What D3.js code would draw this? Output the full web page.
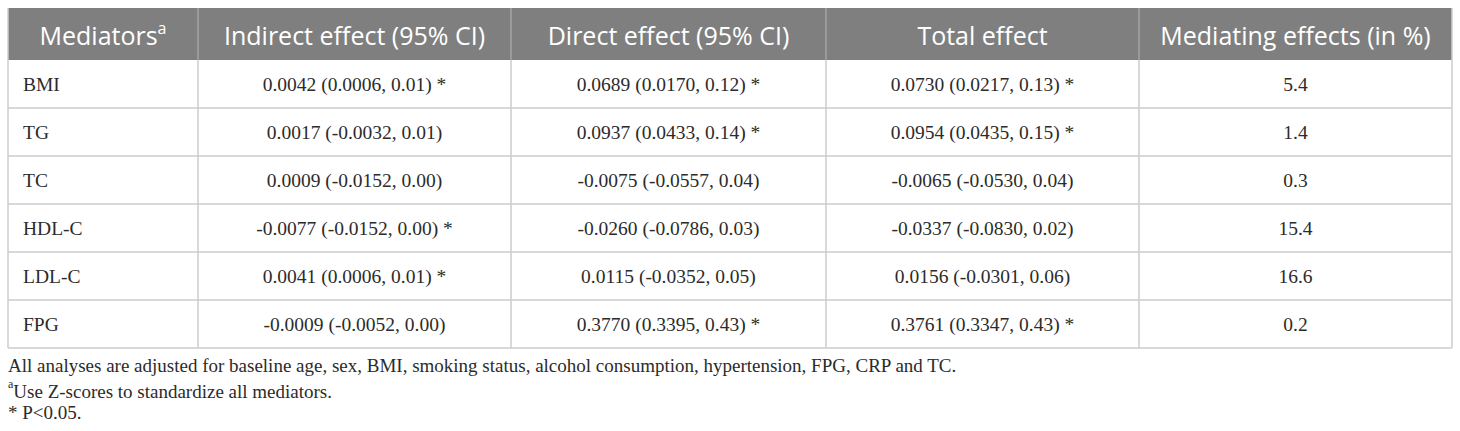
<!DOCTYPE html>
<html>
<head>
<meta charset="utf-8">
<script src="https://cdn.jsdelivr.net/npm/d3@7"></script>
<style>
  body { margin: 0; background: #fff; }
</style>
</head>
<body>
<div id="chart"></div>
<script>
var width = 1460;
var height = 431;

var headers = ["Mediators", "Indirect effect (95% CI)", "Direct effect (95% CI)", "Total effect", "Mediating effects (in %)"];
var mediators = ["BMI", "TG", "TC", "HDL-C", "LDL-C", "FPG"];
var indirect = ["0.0042 (0.0006, 0.01) *", "0.0017 (-0.0032, 0.01)", "0.0009 (-0.0152, 0.00)",
                "-0.0077 (-0.0152, 0.00) *", "0.0041 (0.0006, 0.01) *", "-0.0009 (-0.0052, 0.00)"];
var direct = ["0.0689 (0.0170, 0.12) *", "0.0937 (0.0433, 0.14) *", "-0.0075 (-0.0557, 0.04)",
              "-0.0260 (-0.0786, 0.03)", "0.0115 (-0.0352, 0.05)", "0.3770 (0.3395, 0.43) *"];
var total = ["0.0730 (0.0217, 0.13) *", "0.0954 (0.0435, 0.15) *", "-0.0065 (-0.0530, 0.04)",
             "-0.0337 (-0.0830, 0.02)", "0.0156 (-0.0301, 0.06)", "0.3761 (0.3347, 0.43) *"];
var mediatingPct = ["5.4", "1.4", "0.3", "15.4", "16.6", "0.2"];
var footnotes = [
  {sup: "", text: "All analyses are adjusted for baseline age, sex, BMI, smoking status, alcohol consumption, hypertension, FPG, CRP and TC."},
  {sup: "a", text: "Use Z-scores to standardize all mediators."},
  {sup: "", text: "* P<0.05."}
];

var columns = [mediators, indirect, direct, total, mediatingPct];
var colWidths = [190, 313, 315, 313, 313];

var tableLeft = 8, tableTop = 8, headerH = 52, rowH = 48;
var tableRight = tableLeft + d3.sum(colWidths);
var tableBottom = tableTop + headerH + rowH * mediators.length;

var edges = [tableLeft].concat(Array.from(d3.cumsum(colWidths), function(d) { return tableLeft + d; }));
var xLeft = d3.scaleOrdinal().domain(d3.range(headers.length)).range(edges.slice(0, -1));
var xCenter = function(i) { return xLeft(i) + colWidths[i] / 2; };

var y = d3.scaleBand()
          .domain(d3.range(mediators.length))
          .range([tableTop + headerH, tableBottom]);

var svg = d3.select("#chart")
            .append("svg")
            .attr("width", width)
            .attr("height", height);

// header band
svg.append("rect")
   .attr("x", tableLeft).attr("y", tableTop)
   .attr("width", tableRight - tableLeft).attr("height", headerH)
   .style("fill", "#7f7f7f");

// row lines
svg.selectAll("line.row")
   .data(d3.range(mediators.length))
   .enter()
   .append("line")
   .attr("class", "row")
   .attr("x1", tableLeft).attr("x2", tableRight)
   .attr("y1", function(d) { return y(d) + rowH; })
   .attr("y2", function(d) { return y(d) + rowH; })
   .style("stroke", "#cccccc").style("stroke-width", 1.5);

// column lines in header (lighter) and body
svg.selectAll("line.hcol")
   .data(edges.slice(1, -1))
   .enter()
   .append("line")
   .attr("x1", function(d) { return d; }).attr("x2", function(d) { return d; })
   .attr("y1", tableTop).attr("y2", tableTop + headerH)
   .style("stroke", "#a3a3a3").style("stroke-width", 1.5);

svg.selectAll("line.bcol")
   .data(edges)
   .enter()
   .append("line")
   .attr("x1", function(d) { return d; }).attr("x2", function(d) { return d; })
   .attr("y1", function(d, i) { return (i == 0 || i == edges.length - 1) ? tableTop : tableTop + headerH; })
   .attr("y2", tableBottom)
   .style("stroke", "#cccccc")
   .style("stroke-width", 1.5);

// header text
var ht = svg.selectAll("text.head")
   .data(headers)
   .enter()
   .append("text")
   .attr("x", function(d, i) { return xCenter(i); })
   .attr("y", tableTop + headerH / 2 + 1)
   .attr("text-anchor", "middle")
   .attr("dominant-baseline", "central")
   .style("font-family", "'Open Sans', sans-serif")
   .style("font-size", "25px")
   .style("fill", "#ffffff")
   .text(function(d) { return d; });

ht.filter(function(d, i) { return i == 0; })
  .append("tspan")
  .attr("dy", "-0.45em")
  .style("font-size", "16px")
  .text("a");

// body cells
columns.forEach(function(col, c) {
  svg.selectAll("text.c" + c)
     .data(col)
     .enter()
     .append("text")
     .attr("x", c == 0 ? tableLeft + 15 : xCenter(c))
     .attr("y", function(d, i) { return y(i) + rowH / 2; })
     .attr("text-anchor", c == 0 ? "start" : "middle")
     .attr("dominant-baseline", "central")
     .style("font-family", "'Liberation Serif', serif")
     .style("font-size", "19.5px")
     .style("fill", "#2b2b2b")
     .text(function(d) { return d; });
});

// footnotes
var fn = svg.selectAll("text.foot")
   .data(footnotes)
   .enter()
   .append("text")
   .attr("x", tableLeft)
   .attr("y", function(d, i) { return tableBottom + 17 + i * 23.5; })
   .attr("dominant-baseline", "central")
   .style("font-family", "'Liberation Serif', serif")
   .style("font-size", "19px")
   .style("fill", "#2b2b2b");

fn.filter(function(d) { return d.sup; })
  .append("tspan")
  .attr("dy", "-0.4em")
  .style("font-size", "12px")
  .text(function(d) { return d.sup; });

fn.append("tspan")
  .attr("dy", function(d) { return d.sup ? "0.4em" : null; })
  .text(function(d) { return d.text; });
</script>
</body>
</html>
